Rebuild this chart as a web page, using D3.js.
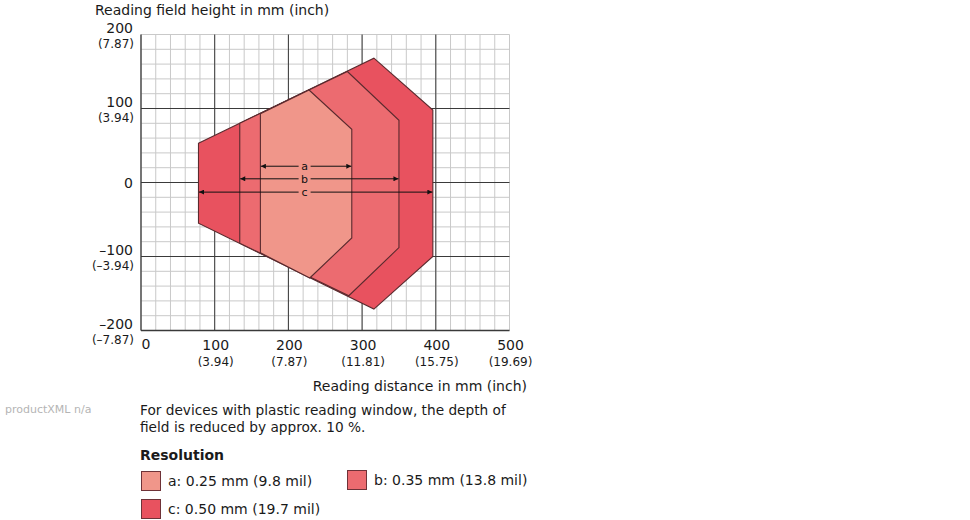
<!DOCTYPE html>
<html>
<head>
<meta charset="utf-8">
<script src="https://cdn.jsdelivr.net/npm/d3@7"></script>
<style>
  body { margin: 0; background: #fff; }
  svg { display: block; font-family: 'DejaVu Sans', sans-serif; }
</style>
</head>
<body>
<svg id="main-svg" width="970" height="520"></svg>
<script>
'use strict';

// x ticks (mm) and their inch labels
const x_ticks = [100, 200, 300, 400, 500];
const x_inch = ['(3.94)', '(7.87)', '(11.81)', '(15.75)', '(19.69)'];

// y ticks (mm) and their inch labels
const y_ticks = [200, 100, 0, -100, -200];
const y_mm = ['200', '100', '0', '\u2013100', '\u2013200'];
const y_inch = ['(7.87)', '(3.94)', '', '(\u20133.94)', '(\u20137.87)'];

// reading field outlines, [distance, height] in mm
const field_c = [[78, 53], [316, 168], [396, 98], [396, -100], [316, -171], [78, -55]];
const field_b = [[134, 80], [280, 150], [350, 84], [350, -88], [282, -153], [134, -82]];
const field_a = [[162, 93], [228, 125], [286, 72], [286, -75], [229, -129], [162, -95]];

// depth of field arrows: [from, to, height]
const arrow_names = ['a', 'b', 'c'];
const arrow_ranges = [[162, 286, 22], [134, 350, 5], [78, 396, -13]];

const legend_labels = ['a: 0.25 mm (9.8 mil)', 'b: 0.35 mm (13.8 mil)', 'c: 0.50 mm (19.7 mil)'];

const colors = {
    a: '#f0968a',
    b: '#ec6b70',
    c: '#e8525f',
    outline: '#5a2a2e',
    grid: '#c9c9c9',
    major: '#3a3a3a',
    text: '#1a1a1a',
};

const svg = d3.select('#main-svg');

const x = d3.scaleLinear().domain([0, 500]).range([141, 509.5]);
const y = d3.scaleLinear().domain([-200, 200]).range([330.5, 34.5]);

// grid
const grid = svg.append('g');
grid.selectAll('.vx')
    .data(d3.range(0, 501, 20))
    .enter().append('line')
    .attr('x1', d => x(d)).attr('x2', d => x(d))
    .attr('y1', y(200)).attr('y2', y(-200))
    .attr('stroke', colors.grid)
    .attr('stroke-width', 1);
grid.selectAll('.hy')
    .data(d3.range(-200, 201, 20))
    .enter().append('line')
    .attr('y1', d => y(d)).attr('y2', d => y(d))
    .attr('x1', x(0)).attr('x2', x(500))
    .attr('stroke', colors.grid)
    .attr('stroke-width', 1);

// major lines
grid.selectAll('.mx')
    .data([100, 200, 300, 400])
    .enter().append('line')
    .attr('x1', d => x(d)).attr('x2', d => x(d))
    .attr('y1', y(200)).attr('y2', y(-200))
    .attr('stroke', colors.major);
grid.selectAll('.my')
    .data([100, 0, -100])
    .enter().append('line')
    .attr('y1', d => y(d)).attr('y2', d => y(d))
    .attr('x1', x(0)).attr('x2', x(500))
    .attr('stroke', colors.major);

// axes lines
svg.append('line')
    .attr('x1', x(0)).attr('x2', x(0))
    .attr('y1', y(200)).attr('y2', y(-200))
    .attr('stroke', colors.major).attr('stroke-width', 1.3);
svg.append('line')
    .attr('x1', x(0)).attr('x2', x(500))
    .attr('y1', y(-200)).attr('y2', y(-200))
    .attr('stroke', colors.major).attr('stroke-width', 1.3);

// reading fields, biggest first
const line = d3.line().x(d => x(d[0])).y(d => y(d[1])).curve(d3.curveLinearClosed);
[[field_c, colors.c], [field_b, colors.b], [field_a, colors.a]].forEach(([pts, col]) => {
    svg.append('path')
        .attr('d', line(pts))
        .attr('fill', col)
        .attr('stroke', colors.outline)
        .attr('stroke-width', 1.1)
        .attr('stroke-linejoin', 'miter');
});

// arrows
svg.append('defs').append('marker')
    .attr('id', 'head')
    .attr('viewBox', '0 0 10 10')
    .attr('refX', 10).attr('refY', 5)
    .attr('markerWidth', 10).attr('markerHeight', 5)
    .attr('markerUnits', 'userSpaceOnUse')
    .attr('orient', 'auto')
    .append('path')
    .attr('d', 'M0,0 L10,5 L0,10 Z')
    .attr('fill', '#111');

const label_x = 222;
const gap = 6;
arrow_ranges.forEach(([x0, x1, h], i) => {
    const g = svg.append('g');
    g.append('line')
        .attr('x1', x(label_x) - gap).attr('x2', x(x0) + 0.5)
        .attr('y1', y(h)).attr('y2', y(h))
        .attr('stroke', '#111').attr('stroke-width', 1)
        .attr('marker-end', 'url(#head)');
    g.append('line')
        .attr('x1', x(label_x) + gap).attr('x2', x(x1) - 0.5)
        .attr('y1', y(h)).attr('y2', y(h))
        .attr('stroke', '#111').attr('stroke-width', 1)
        .attr('marker-end', 'url(#head)');
    g.append('text')
        .attr('x', x(label_x)).attr('y', y(h) + 4)
        .attr('text-anchor', 'middle')
        .attr('font-size', 11)
        .attr('fill', '#111')
        .text(arrow_names[i]);
});

// y labels
const ylab = svg.append('g').attr('fill', colors.text).attr('text-anchor', 'end');
y_ticks.forEach((v, i) => {
    if (y_inch[i] === '') {
        ylab.append('text').attr('x', 133).attr('y', y(v) + 5)
            .attr('font-size', 14).text(y_mm[i]);
    } else {
        ylab.append('text').attr('x', 133).attr('y', y(v) - 2)
            .attr('font-size', 14).text(y_mm[i]);
        ylab.append('text').attr('x', 134).attr('y', y(v) + 13)
            .attr('font-size', 12).text(y_inch[i]);
    }
});

// x labels
const xlab = svg.append('g').attr('fill', colors.text).attr('text-anchor', 'middle');
xlab.append('text').attr('x', x(0) + 5).attr('y', y(-200) + 18)
    .attr('font-size', 14).text('0');
x_ticks.forEach((v, i) => {
    xlab.append('text').attr('x', x(v) + 1).attr('y', y(-200) + 19)
        .attr('font-size', 14).text(v);
    xlab.append('text').attr('x', x(v) + 1).attr('y', y(-200) + 35)
        .attr('font-size', 12).text(x_inch[i]);
});

// axis titles
svg.append('text').attr('x', 95).attr('y', 15)
    .attr('font-size', 14).attr('fill', colors.text)
    .text('Reading field height in mm (inch)');
svg.append('text').attr('x', 527).attr('y', 391)
    .attr('font-size', 14).attr('fill', colors.text)
    .attr('text-anchor', 'end')
    .text('Reading distance in mm (inch)');

// notes
svg.append('text').attr('x', 5).attr('y', 413)
    .attr('font-size', 11).attr('fill', '#b5b5b5')
    .text('productXML n/a');
svg.append('text').attr('x', 140).attr('y', 415)
    .attr('font-size', 13.7).attr('fill', colors.text)
    .text('For devices with plastic reading window, the depth of');
svg.append('text').attr('x', 140).attr('y', 432)
    .attr('font-size', 13.7).attr('fill', colors.text)
    .text('field is reduced by approx. 10 %.');
svg.append('text').attr('x', 140).attr('y', 460)
    .attr('font-size', 14).attr('font-weight', 'bold').attr('fill', colors.text)
    .text('Resolution');

// legend
const legend_pos = [[141, 471], [347, 470], [141, 499]];
const legend_cols = [colors.a, colors.b, colors.c];
legend_labels.forEach((lab, i) => {
    const [lx, ly] = legend_pos[i];
    svg.append('rect')
        .attr('x', lx + 0.5).attr('y', ly + 0.5)
        .attr('width', 19).attr('height', 19)
        .attr('fill', legend_cols[i])
        .attr('stroke', '#6e3238');
    svg.append('text')
        .attr('x', lx + 27).attr('y', ly + 15)
        .attr('font-size', 14).attr('fill', colors.text)
        .text(lab);
});
</script>
</body>
</html>
